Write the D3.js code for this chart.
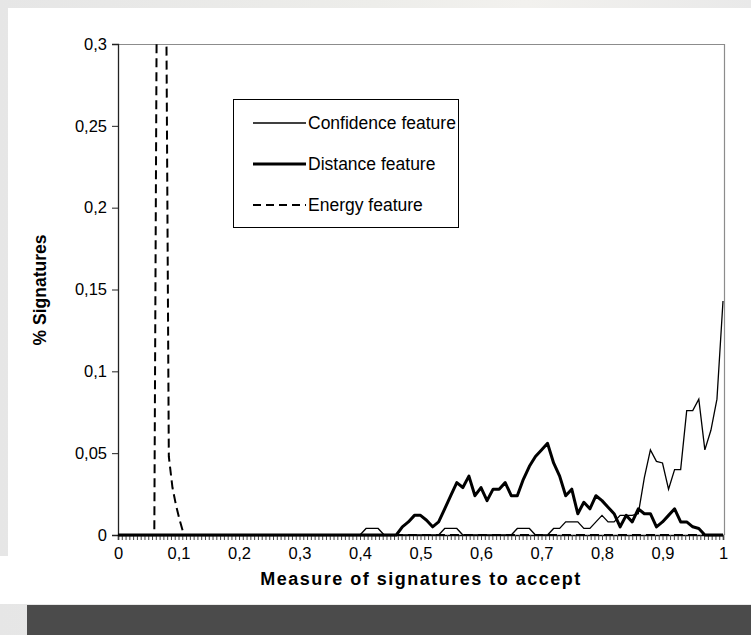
<!DOCTYPE html>
<html>
<head>
<meta charset="utf-8">
<script src="https://cdn.jsdelivr.net/npm/d3@7/dist/d3.min.js"></script>
<style>
  html, body { margin: 0; padding: 0; background: #fff; }
  svg { display: block; }
</style>
</head>
<body>
<svg width="751" height="635"></svg>
<script>
// category grid of the x axis (0 .. 1 by 0.01)
const categories = d3.range(0, 101).map(i => i / 100)

const confidence = [
  0, 0, 0, 0, 0, 0, 0, 0, 0, 0,
  0, 0, 0, 0, 0, 0, 0, 0, 0, 0,
  0, 0, 0, 0, 0, 0, 0, 0, 0, 0,
  0, 0, 0, 0, 0, 0, 0, 0, 0, 0,
  0, 0.004, 0.004, 0.004, 0, 0, 0, 0, 0, 0,
  0, 0, 0, 0, 0.004, 0.004, 0.004, 0, 0, 0,
  0, 0, 0, 0, 0, 0, 0.004, 0.004, 0.004, 0,
  0, 0, 0.004, 0.004, 0.008, 0.008, 0.008, 0.004, 0.004, 0.008,
  0.012, 0.008, 0.008, 0.012, 0.012, 0.012, 0.013, 0.035, 0.052, 0.045,
  0.044, 0.028, 0.040, 0.040, 0.076, 0.076, 0.083, 0.052, 0.064, 0.083,
  0.143
]

const distance = [
  0, 0, 0, 0, 0, 0, 0, 0, 0, 0,
  0, 0, 0, 0, 0, 0, 0, 0, 0, 0,
  0, 0, 0, 0, 0, 0, 0, 0, 0, 0,
  0, 0, 0, 0, 0, 0, 0, 0, 0, 0,
  0, 0, 0, 0, 0, 0, 0, 0.005, 0.008, 0.012,
  0.012, 0.009, 0.005, 0.008, 0.016, 0.024, 0.032, 0.029, 0.036, 0.024,
  0.029, 0.021, 0.028, 0.028, 0.032, 0.024, 0.024, 0.034, 0.042, 0.048,
  0.052, 0.056, 0.044, 0.036, 0.024, 0.028, 0.013, 0.020, 0.016, 0.024,
  0.021, 0.017, 0.013, 0.005, 0.012, 0.008, 0.016, 0.013, 0.013, 0.005,
  0.008, 0.012, 0.016, 0.008, 0.008, 0.005, 0.004, 0, 0, 0,
  0
]

// energy feature is sampled more finely near the start
const energyX = [0, 0.06, 0.066, 0.072, 0.078, 0.084, 0.09, 0.096, 0.102, 0.109, 1]
const energyY = [0, 0, 0.48, 0.6, 0.44, 0.048, 0.029, 0.018, 0.009, 0, 0]

const yTicks = [0, 0.05, 0.1, 0.15, 0.2, 0.25, 0.3]
const xTicks = [0, 0.1, 0.2, 0.3, 0.4, 0.5, 0.6, 0.7, 0.8, 0.9, 1]

const seriesNames = ['Confidence feature', 'Distance feature', 'Energy feature']

const fmt = v => String(v).replace('.', ',')
const font = '"Liberation Sans", Arial, sans-serif'

const svg = d3.select('svg')

// page background
const defs = svg.append('defs')
const grad = defs.append('linearGradient').attr('id', 'bg').attr('x1', 0).attr('x2', 1)
grad.append('stop').attr('offset', '0%').attr('stop-color', '#e6e6e6')
grad.append('stop').attr('offset', '50%').attr('stop-color', '#ededea')
grad.append('stop').attr('offset', '70%').attr('stop-color', '#f2f1ee')
grad.append('stop').attr('offset', '100%').attr('stop-color', '#e9e9e9')
svg.append('rect').attr('width', 751).attr('height', 635).attr('fill', 'url(#bg)')
svg.append('rect').attr('x', 8).attr('y', 8).attr('width', 743).attr('height', 596).attr('fill', '#fff')
svg.append('rect').attr('x', 0).attr('y', 556).attr('width', 8).attr('height', 48).attr('fill', '#fff')
svg.append('rect').attr('x', 27).attr('y', 605).attr('width', 724).attr('height', 30).attr('fill', '#4b4b4b')

const plot = { left: 118, right: 724, top: 44, bottom: 535 }

const x = d3.scaleLinear().domain([0, 1]).range([plot.left, plot.right - 1])
const y = d3.scaleLinear().domain([0, 0.3]).range([plot.bottom, plot.top])

defs.append('clipPath').attr('id', 'clip')
  .append('rect')
  .attr('x', plot.left).attr('y', plot.top)
  .attr('width', plot.right - plot.left + 2).attr('height', plot.bottom - plot.top + 4)

// frame: top and right in grey
svg.append('path')
  .attr('d', `M${plot.left},${plot.top + 0.5}H${plot.right + 0.5}V${plot.bottom}`)
  .attr('fill', 'none').attr('stroke', '#8c8c8c').attr('stroke-width', 1.2)

// y axis
const yAxis = svg.append('g')
  .attr('transform', `translate(${plot.left},0)`)
  .call(d3.axisLeft(y).tickValues(yTicks).tickSize(6).tickPadding(5).tickFormat(fmt))
yAxis.select('.domain').attr('stroke', '#222').attr('stroke-width', 1.3)
yAxis.selectAll('.tick line').attr('stroke', '#222')
yAxis.selectAll('text').attr('font-family', font).attr('font-size', 16.5).attr('fill', '#000')

// x axis: minor ticks every category, labels every tenth
const xMinor = svg.append('g')
  .attr('transform', `translate(0,${plot.bottom})`)
  .call(d3.axisBottom(x).tickValues(d3.range(0, 161).map(i => i / 160)).tickSize(5).tickFormat(''))
xMinor.select('.domain').attr('stroke', '#000').attr('stroke-width', 1.5)
xMinor.selectAll('.tick line').attr('stroke', '#444')

const xAxis = svg.append('g')
  .attr('transform', `translate(0,${plot.bottom})`)
  .call(d3.axisBottom(x).tickValues(xTicks).tickSize(0).tickPadding(12).tickFormat(fmt))
xAxis.select('.domain').remove()
xAxis.selectAll('text').attr('font-family', font).attr('font-size', 16.5).attr('fill', '#000')

// series
const lines = svg.append('g').attr('clip-path', 'url(#clip)')
const line = d3.line().x(d => x(d[0])).y(d => y(d[1]))

lines.append('path')
  .datum(energyX.map((v, i) => [v, energyY[i]]))
  .attr('d', line)
  .attr('fill', 'none').attr('stroke', '#000').attr('stroke-width', 2)
  .attr('stroke-dasharray', '9,5')

lines.append('path')
  .datum(categories.map((c, i) => [c, confidence[i]]))
  .attr('d', line)
  .attr('fill', 'none').attr('stroke', '#000').attr('stroke-width', 1.3)
  .attr('stroke-linejoin', 'miter')

lines.append('path')
  .datum(categories.map((c, i) => [c, distance[i]]))
  .attr('d', line)
  .attr('fill', 'none').attr('stroke', '#000').attr('stroke-width', 3)
  .attr('stroke-linejoin', 'round')

// axis titles
svg.append('text')
  .attr('x', 421).attr('y', 585)
  .attr('text-anchor', 'middle')
  .attr('font-family', font).attr('font-size', 18).attr('font-weight', 'bold')
  .attr('letter-spacing', 1.5)
  .text('Measure of signatures to accept')

svg.append('text')
  .attr('transform', 'translate(46,290) rotate(-90)')
  .attr('text-anchor', 'middle')
  .attr('font-family', font).attr('font-size', 17.5).attr('font-weight', 'bold')
  .text('% Signatures')

// legend
const legend = svg.append('g').attr('transform', 'translate(233,99)')
legend.append('rect')
  .attr('x', 0.5).attr('y', 0.5).attr('width', 225).attr('height', 128)
  .attr('fill', '#fff').attr('stroke', '#000').attr('stroke-width', 1)

const legendStyles = [
  { w: 1.3, dash: null },
  { w: 3, dash: null },
  { w: 2, dash: '8,5' }
]
seriesNames.forEach((name, i) => {
  const ly = 24 + i * 41
  legend.append('line')
    .attr('x1', 20).attr('x2', 73).attr('y1', ly).attr('y2', ly)
    .attr('stroke', '#000').attr('stroke-width', legendStyles[i].w)
    .attr('stroke-dasharray', legendStyles[i].dash)
  legend.append('text')
    .attr('x', 75).attr('y', ly).attr('dy', '0.35em')
    .attr('font-family', font).attr('font-size', 17.5)
    .text(name)
})
</script>
</body>
</html>
